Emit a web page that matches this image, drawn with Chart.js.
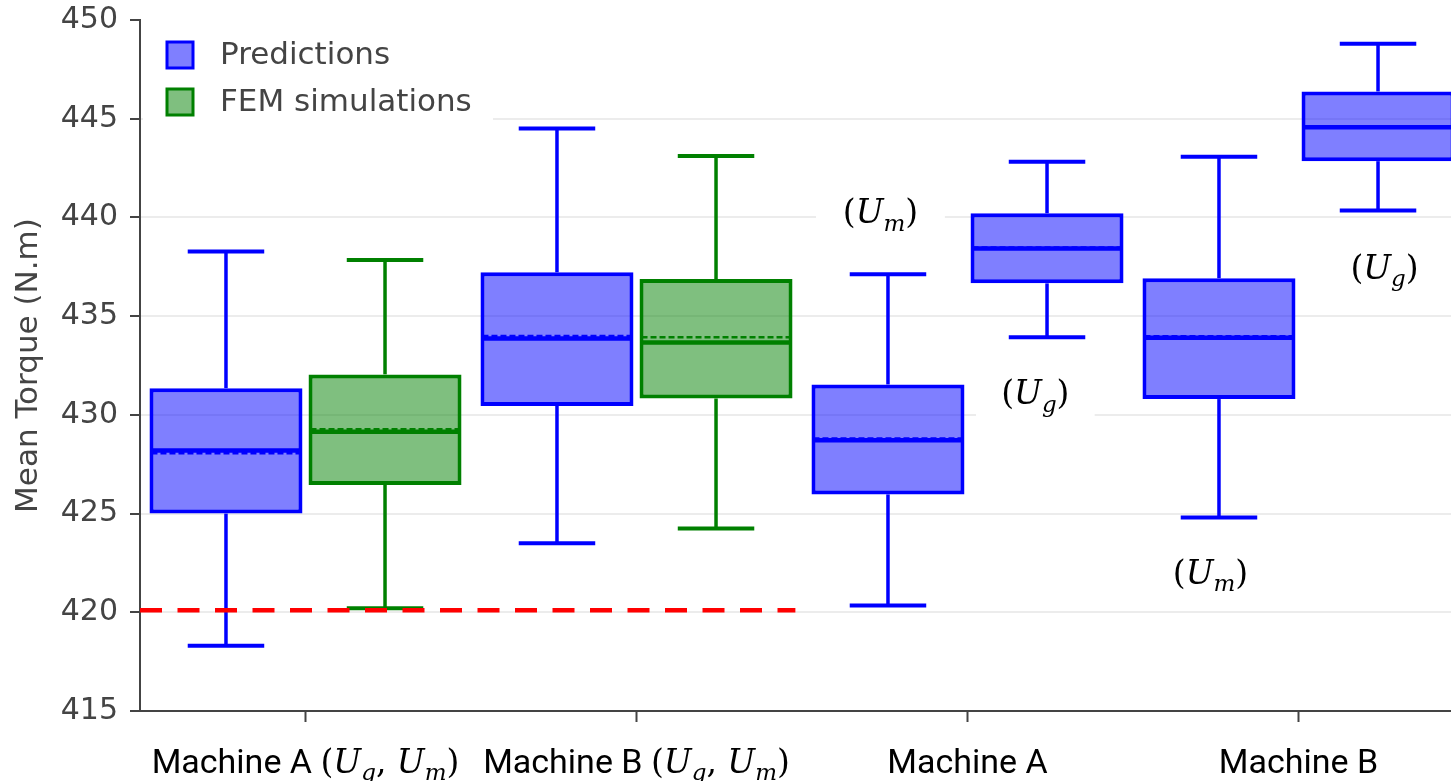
<!DOCTYPE html>
<html>
<head>
<meta charset="utf-8">
<title>Mean Torque</title>
<style>
  html, body { margin: 0; padding: 0; background: #fff; width: 1451px; height: 781px; overflow: hidden; }
  #wrap { position: absolute; left: 0; top: 0; width: 1480px; height: 781px; }
</style>
<script src="https://cdn.jsdelivr.net/npm/chart.js@4/dist/chart.umd.min.js"></script>
</head>
<body>
<div id="wrap"><canvas id="chart" width="1480" height="781"></canvas></div>
<script>
// ---- data -------------------------------------------------------------
const tickLabels = ['Machine A (U_g, U_m)', 'Machine B (U_g, U_m)', 'Machine A', 'Machine B'];
const yTickValues = [415, 420, 425, 430, 435, 440, 445, 450];

// left box in each group: Predictions (U_m alone for the last two)
const leftMin    = [418.30, 423.50, 420.35, 424.80];
const leftQ1     = [425.00, 430.45, 425.97, 430.80];
const leftMedian = [428.20, 433.87, 428.72, 433.90];
const leftMean   = [428.05, 434.00, 428.80, 433.98];
const leftQ3     = [431.35, 437.22, 431.54, 436.92];
const leftMax    = [438.27, 444.50, 437.12, 443.07];

// right box in each group: FEM simulations (U_g alone for the last two)
const rightMin    = [420.20, 424.25, 433.93, 440.35];
const rightQ1     = [426.45, 430.83, 436.66, 442.85];
const rightMedian = [429.15, 433.67, 438.43, 444.57];
const rightMean   = [429.27, 433.93, 438.48, 444.62];
const rightQ3     = [432.05, 436.88, 440.21, 446.38];
const rightMax    = [437.84, 443.11, 442.82, 448.80];

// which right-hand boxes are FEM runs (the others are predictions)
const rightIsFEM = [true, true, false, false];

// reference torque limit
const limitValue = 420.1;
const limitSpan  = [-0.5, 1.48];   // in category-index units

// notes placed next to the single-uncertainty boxes
const noteText = ['(U_m)', '(U_g)', '(U_m)', '(U_g)'];
const noteX    = [1.737, 2.205, 2.734, 3.260];   // category-index units
const noteY    = [440.2, 431.04, 421.94, 437.41];

// ---- styling ----------------------------------------------------------
const BLUE = '#0000ff', BLUE_FILL = 'rgba(0,0,255,0.5)';
const GREEN = '#008000', GREEN_FILL = 'rgba(0,128,0,0.5)';
const AXIS = '#444';
const SANS = '"DejaVu Sans", Verdana, sans-serif';
const LABEL_SANS = 'Roboto, "Liberation Sans", sans-serif';
const SERIF = '"DejaVu Serif", "Liberation Serif", serif';

// ---- rich text (plain text followed by an italic math part) ------------
function mathRuns(str) {
  const runs = [];
  for (let i = 0; i < str.length; i++) {
    const c = str[i];
    if (c === '_') { runs.push({ t: str[i + 1], it: true, sub: true }); i++; }
    else if (/[A-Za-z]/.test(c)) runs.push({ t: c, it: true });
    else runs.push({ t: c });
  }
  return runs;
}
function drawRich(ctx, text, cx, baseY, opt) {
  const k = text.indexOf('(');
  const plain = k >= 0 ? text.slice(0, k) : text;
  const math = k >= 0 ? text.slice(k) : '';
  const pieces = [];
  if (plain) pieces.push({ t: plain, font: opt.sansFont, dy: 0 });
  mathRuns(math).forEach(r => {
    const size = r.sub ? Math.round(opt.mathSize * 0.7) : opt.mathSize;
    pieces.push({
      t: r.t,
      font: (r.it ? 'italic ' : '') + size + 'px ' + SERIF,
      dy: r.sub ? opt.mathSize * 0.22 : 0
    });
  });
  ctx.save();
  ctx.textAlign = 'left';
  ctx.textBaseline = 'alphabetic';
  ctx.fillStyle = opt.color;
  let total = 0;
  pieces.forEach(p => { ctx.font = p.font; p.w = ctx.measureText(p.t).width; total += p.w; });
  let x = cx - total / 2;
  pieces.forEach(p => { ctx.font = p.font; ctx.fillText(p.t, x, baseY + p.dy); x += p.w; });
  ctx.restore();
  return total;
}

function line(ctx, x1, y1, x2, y2) {
  ctx.beginPath(); ctx.moveTo(x1, y1); ctx.lineTo(x2, y2); ctx.stroke();
}

// ---- whiskers, medians, means, limit line ----------------------------
const boxPlugin = {
  id: 'boxDetails',
  afterDatasetsDraw(chart) {
    const ctx = chart.ctx, ys = chart.scales.y, xs = chart.scales.x;
    const stats = [
      { min: leftMin, q1: leftQ1, med: leftMedian, mean: leftMean, q3: leftQ3, max: leftMax },
      { min: rightMin, q1: rightQ1, med: rightMedian, mean: rightMean, q3: rightQ3, max: rightMax }
    ];
    ctx.save();
    chart.data.datasets.forEach((ds, di) => {
      const st = stats[di];
      chart.getDatasetMeta(di).data.forEach((bar, i) => {
        const col = Array.isArray(ds.borderColor) ? ds.borderColor[i] : ds.borderColor;
        const x = bar.x, half = bar.width / 2;
        ctx.strokeStyle = col;
        ctx.setLineDash([]);
        // whiskers
        ctx.lineWidth = 3.5;
        line(ctx, x, ys.getPixelForValue(st.q3[i]), x, ys.getPixelForValue(st.max[i]));
        line(ctx, x, ys.getPixelForValue(st.q1[i]), x, ys.getPixelForValue(st.min[i]));
        ctx.lineWidth = 4;
        line(ctx, x - half / 2, ys.getPixelForValue(st.max[i]), x + half / 2, ys.getPixelForValue(st.max[i]));
        line(ctx, x - half / 2, ys.getPixelForValue(st.min[i]), x + half / 2, ys.getPixelForValue(st.min[i]));
        // median
        ctx.lineWidth = 4.5;
        line(ctx, x - half + 1, ys.getPixelForValue(st.med[i]), x + half - 1, ys.getPixelForValue(st.med[i]));
        // mean
        ctx.lineWidth = 2.5;
        ctx.setLineDash([6, 3]);
        line(ctx, x - half + 2, ys.getPixelForValue(st.mean[i]), x + half - 2, ys.getPixelForValue(st.mean[i]));
        ctx.setLineDash([]);
      });
    });
    // limit line
    ctx.strokeStyle = '#ff0000';
    ctx.lineWidth = 4.5;
    ctx.setLineDash([22, 15.5]);
    const yl = ys.getPixelForValue(limitValue);
    line(ctx, xs.getPixelForValue(limitSpan[0]), yl, xs.getPixelForValue(limitSpan[1]), yl);
    ctx.restore();
  },
  afterDraw(chart) {
    const ctx = chart.ctx, ys = chart.scales.y, xs = chart.scales.x, area = chart.chartArea;

    // category labels under the x axis
    chart.data.labels.forEach((lab, i) => {
      drawRich(ctx, lab, xs.getPixelForTick(i), xs.top + 62,
        { sansFont: '34px ' + LABEL_SANS, mathSize: 33, color: '#000' });
    });

    // notes with white backing
    noteText.forEach((t, i) => {
      const cx = xs.getPixelForValue(noteX[i]);
      const cy = ys.getPixelForValue(noteY[i]);
      ctx.save();
      ctx.font = '33px ' + SERIF;
      const w = ctx.measureText(t.replace('_', '')).width;
      ctx.fillStyle = '#fff';
      ctx.fillRect(cx - w / 2 - 22, cy - 24, w + 44, 48);
      ctx.restore();
      drawRich(ctx, t, cx, cy + 10, { sansFont: '33px ' + SERIF, mathSize: 33, color: '#000' });
    });

    // legend
    ctx.save();
    ctx.fillStyle = '#fff';
    ctx.fillRect(area.left + 3, area.top + 6, 350, 102);
    const legend = [
      { text: chart.data.datasets[0].label, fill: BLUE_FILL, stroke: BLUE },
      { text: chart.data.datasets[1].label, fill: GREEN_FILL, stroke: GREEN }
    ];
    legend.forEach((item, k) => {
      const y0 = area.top + 22 + k * 47;
      ctx.fillStyle = item.fill;
      ctx.fillRect(area.left + 27, y0, 26, 26);
      ctx.strokeStyle = item.stroke;
      ctx.lineWidth = 3;
      ctx.strokeRect(area.left + 27, y0, 26, 26);
      ctx.fillStyle = AXIS;
      ctx.font = '31px ' + SANS;
      ctx.textBaseline = 'middle';
      ctx.textAlign = 'left';
      ctx.fillText(item.text, area.left + 80, y0 + 14);
    });
    ctx.restore();
  }
};

// ---- chart ------------------------------------------------------------
new Chart(document.getElementById('chart'), {
  type: 'bar',
  data: {
    labels: tickLabels,
    datasets: [
      {
        label: 'Predictions',
        data: leftQ1.map((q, i) => [q, leftQ3[i]]),
        backgroundColor: BLUE_FILL,
        borderColor: BLUE,
        borderWidth: 4,
        borderSkipped: false,
        categoryPercentage: 0.961,
        barPercentage: 0.962
      },
      {
        label: 'FEM simulations',
        data: rightQ1.map((q, i) => [q, rightQ3[i]]),
        backgroundColor: rightIsFEM.map(f => f ? GREEN_FILL : BLUE_FILL),
        borderColor: rightIsFEM.map(f => f ? GREEN : BLUE),
        borderWidth: 4,
        borderSkipped: false,
        categoryPercentage: 0.961,
        barPercentage: 0.962
      }
    ]
  },
  options: {
    responsive: false,
    animation: false,
    events: [],
    layout: { padding: { left: 0, right: 16, top: 20, bottom: 0 } },
    plugins: { legend: { display: false }, tooltip: { enabled: false } },
    scales: {
      x: {
        offset: true,
        grid: { offset: false, drawOnChartArea: false, drawTicks: true, tickLength: 11, tickColor: AXIS, tickWidth: 2 },
        border: { display: true, color: AXIS, width: 2 },
        ticks: { display: false },
        afterFit(s) { s.height = 70; s.paddingLeft = 0; s.paddingRight = 0; }
      },
      y: {
        min: yTickValues[0],
        max: yTickValues[yTickValues.length - 1],
        afterBuildTicks(s) { s.ticks = yTickValues.map(v => ({ value: v })); },
        ticks: { color: AXIS, font: { family: SANS, size: 30 }, padding: 12 },
        grid: {
          color: c => (c.tick && c.tick.value === yTickValues[yTickValues.length - 1]) ? 'rgba(0,0,0,0)' : '#ececec',
          lineWidth: 2,
          tickColor: AXIS,
          tickLength: 10,
          tickWidth: 2
        },
        border: { display: true, color: AXIS, width: 2 },
        title: {
          display: true,
          text: 'Mean Torque (N.m)',
          color: AXIS,
          font: { family: SANS, size: 31 },
          padding: { top: 10, bottom: 0 }
        },
        afterFit(s) { s.width = 140; s.paddingTop = 0; s.paddingBottom = 0; }
      }
    }
  },
  plugins: [boxPlugin]
});
</script>
</body>
</html>
